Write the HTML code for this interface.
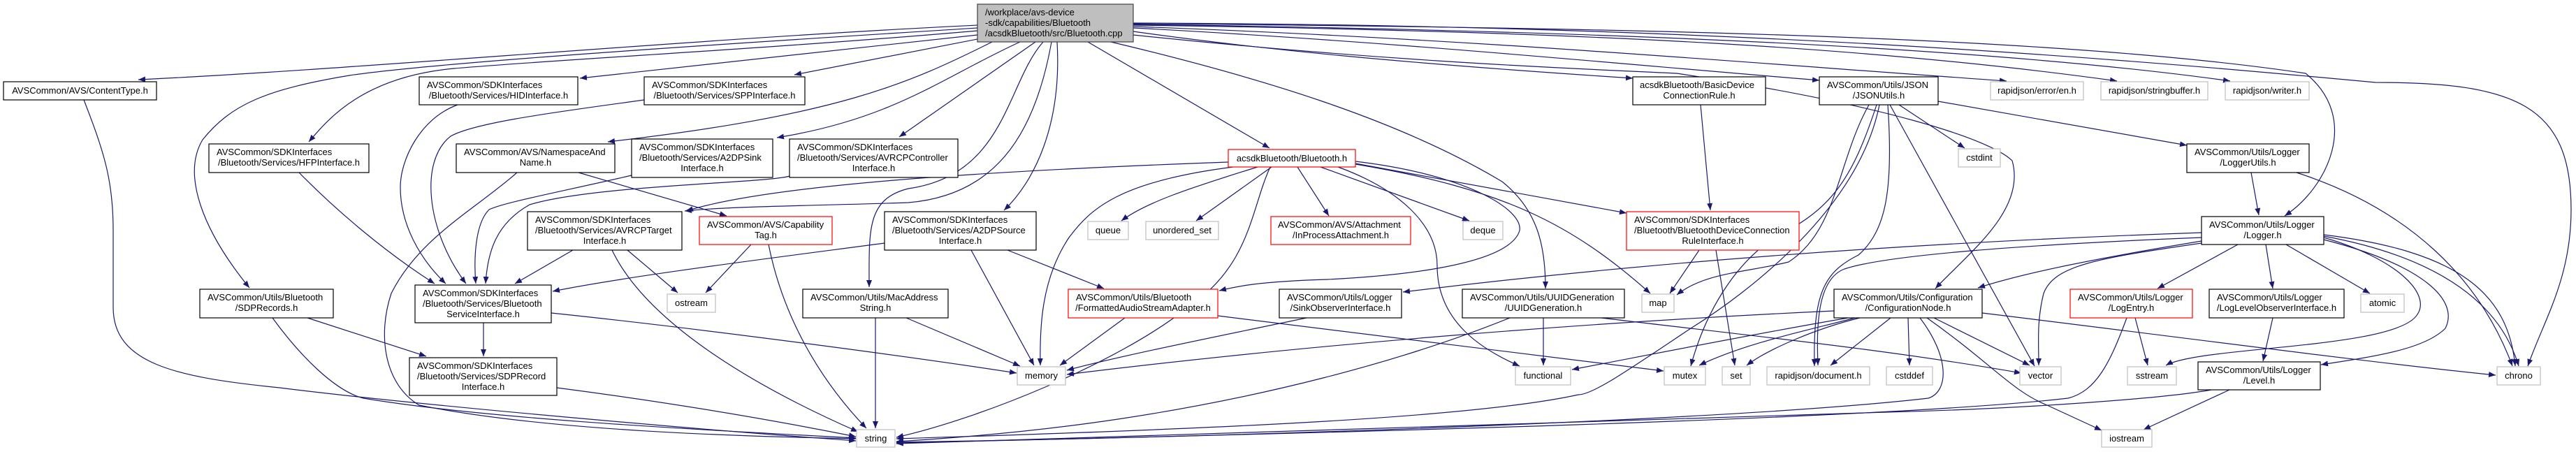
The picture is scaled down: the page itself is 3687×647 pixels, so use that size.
<!DOCTYPE html>
<html><head><meta charset="utf-8"><style>
html,body{margin:0;padding:0;background:#fff;}
svg{display:block;}
text{font-family:"Liberation Sans",Arial,sans-serif;font-size:13px;fill:#000;}
.b{fill:#fff;stroke:#000;stroke-width:1.2}
.r{fill:#fff;stroke:#ff0000;stroke-width:1.2}
.g{fill:#fff;stroke:#bfbfbf;stroke-width:1.2}
.m{fill:#bfbfbf;stroke:#404040;stroke-width:1.2}
.e{fill:none;stroke:#191970;stroke-width:1.2;marker-end:url(#a)}
.c{text-anchor:middle}
</style></head><body>
<svg width="3687" height="647" viewBox="0 0 3687 647" xmlns="http://www.w3.org/2000/svg">
<defs><marker id="a" markerUnits="userSpaceOnUse" markerWidth="11" markerHeight="8" refX="10" refY="4" orient="auto"><path d="M0,0 L10,4 L0,8 z" fill="#191970"/></marker></defs>
<g>
<!-- main edges -->
<path class="e" d="M1399,36 C1000,55 500,100 198,114"/>
<path class="e" d="M1399,44 C1100,70 800,85 650,98 C520,110 470,170 442,203"/>
<path class="e" d="M1399,40 C1000,65 620,90 500,108 C380,128 330,150 290,200 C260,250 290,330 357,412"/>
<path class="e" d="M1399,50 L830,112"/>
<path class="e" d="M1399,56 L1137,107"/>
<path class="e" d="M1420,60 C1300,120 1200,165 870,203"/>
<path class="e" d="M1460,60 C1350,110 1280,170 1112,197"/>
<path class="e" d="M1482,60 L1287,196"/>
<path class="e" d="M1493,60 C1440,120 1440,250 1300,270 C1240,285 1244,330 1244,411"/>
<path class="e" d="M1505,60 C1480,200 1420,280 1300,290 C1150,295 1050,295 980,302"/>
<path class="e" d="M1513,60 C1520,180 1480,260 1437,301"/>
<path class="e" d="M1557,60 L1817,212"/>
<path class="e" d="M1622,45 C1800,70 2000,90 2337,112"/>
<path class="e" d="M1622,40 C2000,60 2300,90 2604,115"/>
<path class="e" d="M1622,38 C2100,55 2500,90 2872,116"/>
<path class="e" d="M1622,36 C2300,45 2700,70 3030,116"/>
<path class="e" d="M1622,35 C2400,45 2900,75 3192,116"/>
<path class="e" d="M1622,34 C2500,40 3000,60 3300,105 C3380,170 3330,270 3270,309"/>
<path class="e" d="M1622,33 C2500,35 3100,90 3400,118 C3600,118 3680,150 3680,300 C3680,400 3640,460 3618,524"/>
<path class="e" d="M1622,50 C2000,90 2300,100 2400,105 C2700,150 2850,200 2880,230 C2900,300 2820,360 2770,413"/>
<path class="e" d="M1590,60 C1800,110 2000,170 2150,260 C2200,300 2212,350 2212,413"/>
<!-- Bluetooth.h -->
<path class="e" d="M1758,232 C1400,245 1100,265 982,302"/>
<path class="e" d="M1765,239 C1600,260 1560,300 1530,340 C1490,400 1488,470 1489,523"/>
<path class="e" d="M1800,239 C1700,270 1640,290 1605,316"/>
<path class="e" d="M1820,239 L1712,316"/>
<path class="e" d="M1818,239 C1790,300 1790,380 1700,440 C1600,520 1400,600 1283,626"/>
<path class="e" d="M1857,239 L1902,309"/>
<path class="e" d="M1890,239 L2103,316"/>
<path class="e" d="M1915,239 C2000,270 2057,320 2057,380 C2057,460 2120,500 2175,524"/>
<path class="e" d="M1940,235 C2150,270 2250,320 2362,420"/>
<path class="e" d="M1940,234 L2328,305"/>
<path class="e" d="M1940,231 C2100,250 2180,300 2175,330 C2160,380 2000,395 1900,400 C1800,403 1770,410 1745,416"/>
<!-- A2DPSource / AVRCPTarget / Capability / Namespace -->
<path class="e" d="M1266,348 C1100,370 900,395 791,417"/>
<path class="e" d="M1390,358 L1480,523"/>
<path class="e" d="M1442,358 L1580,413"/>
<path class="e" d="M820,358 L737,406"/>
<path class="e" d="M898,358 L970,419"/>
<path class="e" d="M876,358 C920,450 1050,540 1228,618"/>
<path class="e" d="M1075,350 L1010,419"/>
<path class="e" d="M1100,350 C1120,450 1170,540 1240,613"/>
<path class="e" d="M828,247 L1040,309"/>
<path class="e" d="M740,247 C680,300 600,340 560,420 C540,480 550,550 600,580 C800,620 1100,625 1225,628"/>
<!-- into BSI -->
<path class="e" d="M428,247 C480,300 550,360 622,406"/>
<path class="e" d="M655,150 C600,170 573,230 573,268 C573,320 600,370 638,406"/>
<path class="e" d="M922,143 C800,160 680,175 645,195 C600,230 610,330 667,406"/>
<path class="e" d="M904,251 C800,275 720,290 700,300 C680,320 678,370 681,406"/>
<path class="e" d="M1130,252 C1100,262 850,265 758,293 C710,320 698,360 695,406"/>
<!-- BSI, SDP -->
<path class="e" d="M692,462 L692,510"/>
<path class="e" d="M789,448 C1000,470 1300,510 1455,534"/>
<path class="e" d="M797,555 C950,575 1100,600 1225,625"/>
<path class="e" d="M440,455 L610,510"/>
<path class="e" d="M390,455 C430,510 480,560 520,570 C700,600 1000,615 1225,627"/>
<path class="e" d="M120,143 C150,220 162,260 162,330 L162,440 C162,520 250,540 400,555 C600,580 1000,615 1225,631"/>
<!-- Mac, Sink, FASA, UUID -->
<path class="e" d="M1253,455 L1253,613"/>
<path class="e" d="M1297,455 L1460,524"/>
<path class="e" d="M1870,455 C1750,480 1600,510 1527,530"/>
<path class="e" d="M1610,455 L1517,523"/>
<path class="e" d="M1743,452 C1900,470 2200,510 2381,531"/>
<path class="e" d="M2209,455 L2209,523"/>
<path class="e" d="M2161,455 C2000,520 1800,570 1600,600 C1500,615 1400,625 1283,632"/>
<path class="e" d="M2292,455 C2500,480 2700,500 2893,534"/>
<!-- JSON, BDCRI, Basic -->
<path class="e" d="M2432,358 L2390,420"/>
<path class="e" d="M2456,358 L2483,523"/>
<path class="e" d="M2434,150 L2448,301"/>
<path class="e" d="M2675,150 C2630,230 2630,330 2560,375 C2500,390 2440,390 2400,422"/>
<path class="e" d="M2690,150 C2660,300 2500,420 2420,470 C2330,530 2280,565 2259,565 C2100,600 1700,615 1283,628"/>
<path class="e" d="M2702,150 C2710,270 2700,330 2660,365 C2610,390 2595,420 2597,524"/>
<path class="e" d="M2705,150 L2912,524"/>
<path class="e" d="M2718,150 L2812,212"/>
<path class="e" d="M2774,145 L3130,208"/>
<path class="e" d="M2686,150 C2650,260 2620,300 2540,340 C2480,380 2440,450 2420,524"/>
<!-- ConfigNode -->
<path class="e" d="M2625,445 C2300,460 1900,490 1527,536"/>
<path class="e" d="M2655,455 C2600,470 2500,490 2432,523"/>
<path class="e" d="M2662,455 C2600,470 2530,500 2500,523"/>
<path class="e" d="M2706,455 L2620,523"/>
<path class="e" d="M2731,455 L2733,523"/>
<path class="e" d="M2768,455 L2905,523"/>
<path class="e" d="M2645,455 C2500,480 2350,510 2250,529"/>
<path class="e" d="M2748,455 C2790,510 2790,560 2760,570 C2500,600 1800,625 1283,633"/>
<path class="e" d="M2758,455 C2850,520 2880,560 2930,580 L3008,616"/>
<path class="e" d="M2837,448 C3100,480 3400,520 3572,537"/>
<!-- LogEntry, LogLevel, Logger, LoggerUtils, Level -->
<path class="e" d="M3056,455 L3074,523"/>
<path class="e" d="M3044,455 C3020,520 3000,560 2960,570 C2700,600 1900,620 1283,634"/>
<path class="e" d="M3253,455 L3239,517"/>
<path class="e" d="M3203,350 L3088,413"/>
<path class="e" d="M3243,350 L3253,413"/>
<path class="e" d="M3272,350 L3392,420"/>
<path class="e" d="M3326,340 C3430,370 3480,420 3460,450 C3430,500 3150,495 3100,523"/>
<path class="e" d="M3326,343 C3470,380 3520,430 3500,470 C3470,500 3400,510 3322,522"/>
<path class="e" d="M3326,338 C3500,370 3580,440 3605,524"/>
<path class="e" d="M3326,336 C3520,360 3590,420 3600,524"/>
<path class="e" d="M3151,333 C2800,345 2400,370 2008,418"/>
<path class="e" d="M3151,345 C3000,370 2900,390 2831,412"/>
<path class="e" d="M3151,348 C3000,370 2940,380 2925,420 C2915,460 2918,490 2918,523"/>
<path class="e" d="M3151,340 C2900,350 2700,365 2640,385 C2600,400 2600,470 2602,523"/>
<path class="e" d="M3222,247 L3233,308"/>
<path class="e" d="M3287,247 C3450,300 3550,400 3596,524"/>
<path class="e" d="M3191,558 L3068,615"/>
<path class="e" d="M3165,558 C3100,570 2900,585 2700,590 C2000,610 1600,622 1283,635"/>
</g>
<g>
<rect class="m" x="1399" y="6" width="223" height="54"/>
<text x="1410" y="22">/workplace/avs-device</text><text x="1410" y="37">-sdk/capabilities/Bluetooth</text><text x="1410" y="52">/acsdkBluetooth/src/Bluetooth.cpp</text>

<rect class="b" x="5" y="117" width="219" height="26"/><text class="c" x="114.5" y="134">AVSCommon/AVS/ContentType.h</text>
<rect class="b" x="600" y="110" width="227" height="40"/><text x="611" y="126">AVSCommon/SDKInterfaces</text><text class="c" x="713.5" y="141">/Bluetooth/Services/HIDInterface.h</text>
<rect class="b" x="922" y="110" width="230" height="40"/><text x="933" y="126">AVSCommon/SDKInterfaces</text><text class="c" x="1037" y="141">/Bluetooth/Services/SPPInterface.h</text>
<rect class="b" x="2337" y="110" width="190" height="40"/><text x="2347" y="126">acsdkBluetooth/BasicDevice</text><text class="c" x="2432" y="141">ConnectionRule.h</text>
<rect class="b" x="2604" y="110" width="170" height="40"/><text x="2615" y="126">AVSCommon/Utils/JSON</text><text class="c" x="2689" y="141">/JSONUtils.h</text>
<rect class="g" x="2849" y="117" width="133" height="26"/><text class="c" x="2915.5" y="134">rapidjson/error/en.h</text>
<rect class="g" x="3007" y="117" width="153" height="26"/><text class="c" x="3083.5" y="134">rapidjson/stringbuffer.h</text>
<rect class="g" x="3185" y="117" width="120" height="26"/><text class="c" x="3245" y="134">rapidjson/writer.h</text>

<rect class="b" x="299" y="206" width="229" height="41"/><text x="310" y="222">AVSCommon/SDKInterfaces</text><text class="c" x="413.5" y="237">/Bluetooth/Services/HFPInterface.h</text>
<rect class="b" x="653" y="206" width="227" height="41"/><text x="664" y="222">AVSCommon/AVS/NamespaceAnd</text><text class="c" x="766.5" y="237">Name.h</text>
<rect class="b" x="904" y="199" width="202" height="55"/><text x="915" y="215">AVSCommon/SDKInterfaces</text><text x="915" y="230">/Bluetooth/Services/A2DPSink</text><text class="c" x="1005" y="245">Interface.h</text>
<rect class="b" x="1130" y="199" width="241" height="55"/><text x="1141" y="215">AVSCommon/SDKInterfaces</text><text x="1141" y="230">/Bluetooth/Services/AVRCPController</text><text class="c" x="1250.5" y="245">Interface.h</text>
<rect class="r" x="1758" y="214" width="182" height="25"/><text class="c" x="1849" y="231">acsdkBluetooth/Bluetooth.h</text>
<rect class="g" x="2803" y="213" width="60" height="26"/><text class="c" x="2833" y="230">cstdint</text>
<rect class="b" x="3130" y="206" width="175" height="41"/><text x="3141" y="222">AVSCommon/Utils/Logger</text><text class="c" x="3217.5" y="237">/LoggerUtils.h</text>

<rect class="b" x="755" y="303" width="221" height="55"/><text x="766" y="319">AVSCommon/SDKInterfaces</text><text x="766" y="334">/Bluetooth/Services/AVRCPTarget</text><text class="c" x="865.5" y="349">Interface.h</text>
<rect class="r" x="1001" y="310" width="190" height="40"/><text x="1012" y="326">AVSCommon/AVS/Capability</text><text class="c" x="1096" y="341">Tag.h</text>
<rect class="b" x="1266" y="303" width="217" height="55"/><text x="1277" y="319">AVSCommon/SDKInterfaces</text><text x="1277" y="334">/Bluetooth/Services/A2DPSource</text><text class="c" x="1374.5" y="349">Interface.h</text>
<rect class="g" x="1557" y="317" width="58" height="26"/><text class="c" x="1586" y="334">queue</text>
<rect class="g" x="1640" y="317" width="104" height="26"/><text class="c" x="1692" y="334">unordered_set</text>
<rect class="r" x="1819" y="310" width="200" height="40"/><text x="1829" y="326">AVSCommon/AVS/Attachment</text><text class="c" x="1919" y="341">/InProcessAttachment.h</text>
<rect class="g" x="2094" y="317" width="57" height="26"/><text class="c" x="2122.5" y="334">deque</text>
<rect class="r" x="2328" y="303" width="247" height="55"/><text x="2339" y="319">AVSCommon/SDKInterfaces</text><text x="2339" y="334">/Bluetooth/BluetoothDeviceConnection</text><text class="c" x="2451.5" y="349">RuleInterface.h</text>
<rect class="b" x="3151" y="310" width="175" height="40"/><text x="3162" y="326">AVSCommon/Utils/Logger</text><text class="c" x="3238.5" y="341">/Logger.h</text>

<rect class="b" x="286" y="414" width="191" height="41"/><text x="297" y="430">AVSCommon/Utils/Bluetooth</text><text class="c" x="381.5" y="445">/SDPRecords.h</text>
<rect class="b" x="594" y="408" width="195" height="54"/><text x="605" y="424">AVSCommon/SDKInterfaces</text><text x="605" y="439">/Bluetooth/Services/Bluetooth</text><text class="c" x="691.5" y="454">ServiceInterface.h</text>
<rect class="g" x="955" y="421" width="69" height="26"/><text class="c" x="989.5" y="438">ostream</text>
<rect class="b" x="1149" y="414" width="208" height="41"/><text x="1160" y="430">AVSCommon/Utils/MacAddress</text><text class="c" x="1253" y="445">String.h</text>
<rect class="r" x="1529" y="414" width="214" height="41"/><text x="1540" y="430">AVSCommon/Utils/Bluetooth</text><text class="c" x="1636" y="445">/FormattedAudioStreamAdapter.h</text>
<rect class="b" x="1831" y="414" width="175" height="41"/><text x="1842" y="430">AVSCommon/Utils/Logger</text><text class="c" x="1918.5" y="445">/SinkObserverInterface.h</text>
<rect class="b" x="2093" y="414" width="232" height="41"/><text x="2104" y="430">AVSCommon/Utils/UUIDGeneration</text><text class="c" x="2209" y="445">/UUIDGeneration.h</text>
<rect class="g" x="2350" y="421" width="46" height="26"/><text class="c" x="2373" y="438">map</text>
<rect class="b" x="2625" y="414" width="212" height="41"/><text x="2636" y="430">AVSCommon/Utils/Configuration</text><text class="c" x="2731" y="445">/ConfigurationNode.h</text>
<rect class="r" x="2963" y="414" width="175" height="41"/><text x="2974" y="430">AVSCommon/Utils/Logger</text><text class="c" x="3050.5" y="445">/LogEntry.h</text>
<rect class="b" x="3162" y="414" width="193" height="41"/><text x="3173" y="430">AVSCommon/Utils/Logger</text><text class="c" x="3258.5" y="445">/LogLevelObserverInterface.h</text>
<rect class="g" x="3379" y="421" width="62" height="26"/><text class="c" x="3410" y="438">atomic</text>

<rect class="b" x="586" y="512" width="211" height="54"/><text x="597" y="528">AVSCommon/SDKInterfaces</text><text x="597" y="543">/Bluetooth/Services/SDPRecord</text><text class="c" x="691.5" y="558">Interface.h</text>
<rect class="g" x="1456" y="525" width="69" height="26"/><text class="c" x="1490.5" y="542">memory</text>
<rect class="g" x="2169" y="525" width="79" height="26"/><text class="c" x="2208.5" y="542">functional</text>
<rect class="g" x="2382" y="525" width="59" height="26"/><text class="c" x="2411.5" y="542">mutex</text>
<rect class="g" x="2465" y="525" width="40" height="26"/><text class="c" x="2485" y="542">set</text>
<rect class="g" x="2529" y="525" width="147" height="26"/><text class="c" x="2602.5" y="542">rapidjson/document.h</text>
<rect class="g" x="2700" y="525" width="66" height="26"/><text class="c" x="2733" y="542">cstddef</text>
<rect class="g" x="2891" y="525" width="59" height="26"/><text class="c" x="2920.5" y="542">vector</text>
<rect class="g" x="3045" y="525" width="70" height="26"/><text class="c" x="3080" y="542">sstream</text>
<rect class="b" x="3146" y="518" width="175" height="40"/><text x="3157" y="534">AVSCommon/Utils/Logger</text><text class="c" x="3233.5" y="549">/Level.h</text>
<rect class="g" x="3574" y="525" width="62" height="26"/><text class="c" x="3605" y="542">chrono</text>

<rect class="g" x="1226" y="615" width="55" height="25"/><text class="c" x="1253.5" y="632">string</text>
<rect class="g" x="3008" y="615" width="72" height="25"/><text class="c" x="3044" y="632">iostream</text>
</g>
</svg>
</body></html>
